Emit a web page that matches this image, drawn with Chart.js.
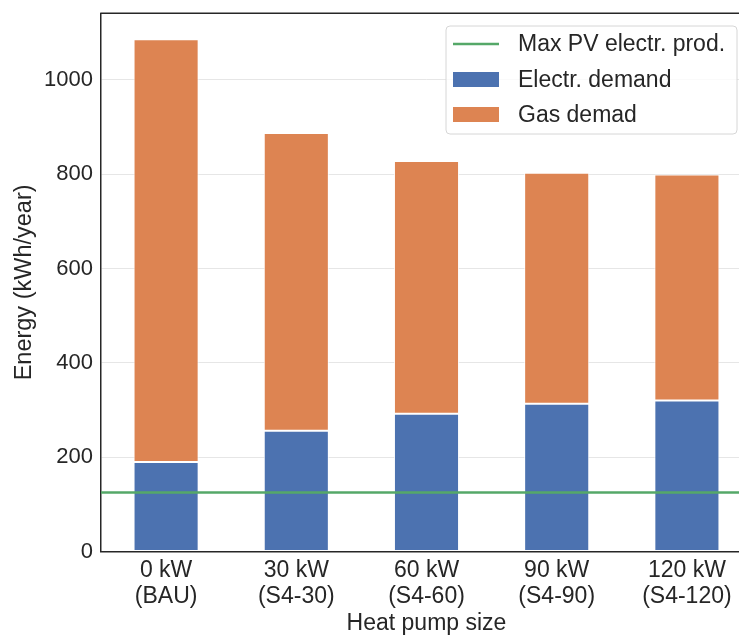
<!DOCTYPE html>
<html>
<head>
<meta charset="utf-8">
<script src="https://cdn.jsdelivr.net/npm/chart.js@4/dist/chart.umd.min.js"></script>
<style>
  html, body { margin: 0; padding: 0; background: #ffffff; overflow: hidden; }
  #wrap { width: 760px; height: 637px; }
</style>
</head>
<body>
<div id="wrap"><canvas id="c" width="760" height="637"></canvas></div>
<script>
// ---- data ----
const categories = [['0 kW', '(BAU)'], ['30 kW', '(S4-30)'], ['60 kW', '(S4-60)'], ['90 kW', '(S4-90)'], ['120 kW', '(S4-120)']];
const electrDemand = [190, 256, 292, 313, 320];
const gasDemand = [896, 631, 536, 490, 479];
const maxPVProduction = 125;
const seriesNames = ['Max PV electr. prod.', 'Electr. demand', 'Gas demad'];
const yAxisMax = 1141;
const yTickStep = 200;
const xAxisTitle = 'Heat pump size';
const yAxisTitle = 'Energy (kWh/year)';

const FONT = "'Liberation Sans', Arial, sans-serif";
const TEXT = '#262626';
const COLORS = { pv: '#55a868', elec: '#4c72b0', gas: '#dd8452' };

const legendPlugin = {
  id: 'boxLegend',
  afterDraw(chart) {
    const ctx = chart.ctx;
    const ca = chart.chartArea;
    ctx.save();
    // top spine
    ctx.strokeStyle = TEXT;
    ctx.lineWidth = 1.5;
    ctx.beginPath();
    ctx.moveTo(ca.left - 0.75, ca.top);
    ctx.lineTo(ca.right, ca.top);
    ctx.stroke();

    // legend box
    const bx = 446, by = 26, bw = 291, bh = 108, r = 4;
    ctx.beginPath();
    ctx.moveTo(bx + r, by);
    ctx.lineTo(bx + bw - r, by);
    ctx.quadraticCurveTo(bx + bw, by, bx + bw, by + r);
    ctx.lineTo(bx + bw, by + bh - r);
    ctx.quadraticCurveTo(bx + bw, by + bh, bx + bw - r, by + bh);
    ctx.lineTo(bx + r, by + bh);
    ctx.quadraticCurveTo(bx, by + bh, bx, by + bh - r);
    ctx.lineTo(bx, by + r);
    ctx.quadraticCurveTo(bx, by, bx + r, by);
    ctx.closePath();
    ctx.fillStyle = 'rgba(255,255,255,0.8)';
    ctx.fill();
    ctx.strokeStyle = '#d6d6d6';
    ctx.lineWidth = 1;
    ctx.stroke();

    const rows = [44, 79.5, 114.5];
    const ds = chart.data.datasets;
    ds.forEach((d, i) => {
      const cy = rows[i];
      if (d.type === 'line') {
        ctx.strokeStyle = d.borderColor;
        ctx.lineWidth = 2.5;
        ctx.beginPath();
        ctx.moveTo(453, cy);
        ctx.lineTo(499, cy);
        ctx.stroke();
      } else {
        ctx.fillStyle = d.backgroundColor;
        ctx.fillRect(453, cy - 7.5, 46, 15);
      }
      ctx.fillStyle = TEXT;
      ctx.font = '23px ' + FONT;
      ctx.textBaseline = 'middle';
      ctx.textAlign = 'left';
      ctx.fillText(d.label, 518, cy + 1);
    });
    ctx.restore();
  }
};

new Chart(document.getElementById('c'), {
  type: 'bar',
  data: {
    labels: categories,
    datasets: [
      {
        type: 'line',
        label: seriesNames[0],
        data: [{ x: -0.5, y: maxPVProduction }, { x: 4.5, y: maxPVProduction }],
        xAxisID: 'xl',
        borderColor: COLORS.pv,
        borderWidth: 2.5,
        pointRadius: 0,
        fill: false,
        order: 0
      },
      {
        label: seriesNames[1],
        data: electrDemand,
        backgroundColor: COLORS.elec,
        borderColor: 'rgba(255,255,255,0.85)',
        borderWidth: 1,
        borderSkipped: false,
        grouped: false,
        order: 1
      },
      {
        label: seriesNames[2],
        data: gasDemand,
        backgroundColor: COLORS.gas,
        borderColor: 'rgba(255,255,255,0.85)',
        borderWidth: 1,
        borderSkipped: false,
        grouped: false,
        order: 1
      }
    ]
  },
  options: {
    responsive: false,
    animation: false,
    layout: { padding: { left: 0, top: 13.3, right: 8, bottom: 0 } },
    plugins: { legend: { display: false }, tooltip: { enabled: false } },
    datasets: { bar: { categoryPercentage: 1, barPercentage: 0.5 } },
    scales: {
      x: {
        type: 'category',
        stacked: true,
        offset: true,
        grid: { display: false, drawTicks: false },
        border: { display: true, color: TEXT, width: 1.5 },
        ticks: { color: TEXT, font: { family: FONT, size: 23, lineHeight: 1.14 }, padding: 6, maxRotation: 0, autoSkip: false },
        title: { display: true, text: xAxisTitle, color: TEXT, font: { family: FONT, size: 23, lineHeight: 1.12 }, padding: { top: 0, bottom: 0 } },
        afterFit(scale) { scale.height = 85.5; scale.paddingLeft = 0; scale.paddingRight = 0; }
      },
      xl: {
        type: 'linear',
        display: false,
        offset: false,
        min: -0.5,
        max: 4.5
      },
      y: {
        stacked: true,
        min: 0,
        max: yAxisMax,
        grid: { color: '#e6e6e6', lineWidth: 1, drawTicks: false },
        border: { display: true, color: TEXT, width: 1.5 },
        ticks: { stepSize: yTickStep, includeBounds: false, color: TEXT, font: { family: FONT, size: 22 }, padding: 8,
                 callback: (v) => String(v) },
        title: { display: true, text: yAxisTitle, color: TEXT, font: { family: FONT, size: 23.5 }, padding: { top: 10, bottom: 0 } },
        afterFit(scale) { scale.width = 101; scale.paddingTop = 0; scale.paddingBottom = 0; }
      }
    }
  },
  plugins: [legendPlugin]
});
</script>
</body>
</html>
